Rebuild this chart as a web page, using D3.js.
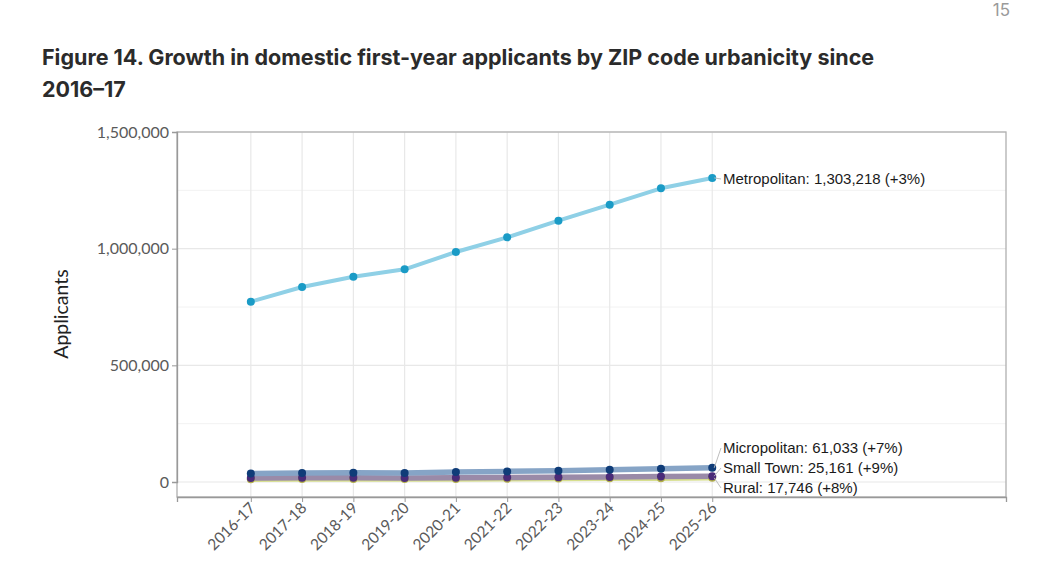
<!DOCTYPE html>
<html>
<head>
<meta charset="utf-8">
<script src="https://cdn.jsdelivr.net/npm/d3@7"></script>
<style>
  html, body { margin: 0; padding: 0; background: #fff; }
  svg { display: block; }
</style>
</head>
<body>
<svg id="chart"></svg>
<script>
// Chart data
const years = ['2016-17', '2017-18', '2018-19', '2019-20', '2020-21',
  '2021-22', '2022-23', '2023-24', '2024-25', '2025-26'];
const metropolitan = [772700, 835700, 880000, 911400, 985700, 1048600, 1120000, 1188600, 1258600, 1303218];
const micropolitan = [36500, 38500, 39500, 39000, 42500, 45500, 48500, 53000, 57000, 61033];
const smallTown = [17500, 17800, 18000, 17600, 18600, 19600, 20800, 21900, 23100, 25161];
const rural = [12300, 12500, 12700, 12400, 13200, 14000, 14900, 15700, 16400, 17746];
const yTicks = [0, 500000, 1000000, 1500000];
const yMinorTicks = [250000, 750000, 1250000];
const endLabels = [
  'Metropolitan: 1,303,218 (+3%)',
  'Micropolitan: 61,033 (+7%)',
  'Small Town: 25,161 (+9%)',
  'Rural: 17,746 (+8%)'
];

const series = [
  { name: 'Rural', values: rural, line: '#d7df8e', dot: '#b3b04a', label: endLabels[3], labelY: 488 },
  { name: 'Small Town', values: smallTown, line: '#9a8aa8', dot: '#4a2a78', label: endLabels[2], labelY: 468 },
  { name: 'Micropolitan', values: micropolitan, line: '#86a4c6', dot: '#0f3c78', label: endLabels[1], labelY: 448 },
  { name: 'Metropolitan', values: metropolitan, line: '#8fd0e6', dot: '#1a9bc6', label: endLabels[0], labelY: 179 }
];

const W = 1049, H = 574;
const svg = d3.select('#chart').attr('width', W).attr('height', H);

const panel = { left: 177, right: 1006, top: 132, bottom: 497 };

// x: discrete years, panel widened on the right for the end labels
const x = d3.scaleLinear().domain([-1.44, 14.73]).range([panel.left, panel.right]);
const y = d3.scaleLinear().domain([0, 1500000]).range([482, 132]);

// Page number
svg.append('text')
  .attr('x', 1010).attr('y', 16)
  .attr('text-anchor', 'end')
  .attr('fill', '#9a9a9a').attr('font-family', 'Inter, sans-serif').attr('font-size', '17px')
  .text('15');

// Title
const title = svg.append('text')
  .attr('fill', '#2b2b2b').attr('font-family', 'Inter, sans-serif')
  .attr('font-size', '21.5px').attr('font-weight', 'bold');
title.append('tspan').attr('x', 42).attr('y', 65)
  .text('Figure 14. Growth in domestic first-year applicants by ZIP code urbanicity since');
title.append('tspan').attr('x', 42).attr('y', 97).text('2016–17');

// Gridlines
const grid = svg.append('g');
grid.selectAll('.minor').data(yMinorTicks).join('line')
  .attr('x1', panel.left).attr('x2', panel.right)
  .attr('y1', d => y(d)).attr('y2', d => y(d))
  .attr('stroke', '#f2f2f2').attr('stroke-width', 1);
grid.selectAll('.major').data(yTicks).join('line')
  .attr('x1', panel.left).attr('x2', panel.right)
  .attr('y1', d => y(d)).attr('y2', d => y(d))
  .attr('stroke', '#e8e8e8').attr('stroke-width', 1.2);
grid.selectAll('.vmajor').data(years).join('line')
  .attr('x1', (d, i) => x(i)).attr('x2', (d, i) => x(i))
  .attr('y1', panel.top).attr('y2', panel.bottom)
  .attr('stroke', '#e8e8e8').attr('stroke-width', 1.2);

// Panel border
svg.append('rect')
  .attr('x', panel.left).attr('y', panel.top)
  .attr('width', panel.right - panel.left).attr('height', panel.bottom - panel.top)
  .attr('fill', 'none').attr('stroke', '#b0b0b0').attr('stroke-width', 1.3);

// Y axis
const yAxis = svg.append('g')
  .attr('transform', `translate(${panel.left},0)`)
  .call(d3.axisLeft(y).tickValues(yTicks).tickSize(5).tickPadding(3).tickFormat(d3.format(',')));
yAxis.select('.domain').attr('stroke', '#999').attr('stroke-width', 1.3);
yAxis.selectAll('.tick line').attr('stroke', '#999');
yAxis.selectAll('.tick text')
  .attr('fill', '#5a5a5a').attr('font-family', 'Lato, sans-serif').attr('font-size', '16px');

// X axis
const xAxis = svg.append('g')
  .attr('transform', `translate(0,${panel.bottom})`)
  .call(d3.axisBottom(x).tickValues(d3.range(years.length)).tickSize(5).tickFormat(i => years[i]));
xAxis.select('.domain').attr('stroke', '#999').attr('stroke-width', 1.3);
xAxis.selectAll('.tick line').attr('stroke', '#999');
xAxis.selectAll('.tick text')
  .attr('fill', '#5a5a5a').attr('font-family', 'Lato, sans-serif').attr('font-size', '15.5px')
  .attr('text-anchor', 'end').attr('dy', 0).attr('y', 0)
  .attr('transform', 'translate(5,12) rotate(-45)');

// Y axis title
svg.append('text')
  .attr('transform', 'translate(68,314) rotate(-90)')
  .attr('text-anchor', 'middle')
  .attr('fill', '#222').attr('font-family', 'Lato, sans-serif').attr('font-size', '19.5px')
  .text('Applicants');

// Lines and points
const line = d3.line().x((d, i) => x(i)).y(d => y(d));
const marks = svg.append('g');
series.forEach(s => {
  marks.append('path')
    .datum(s.values)
    .attr('d', line)
    .attr('fill', 'none')
    .attr('stroke', s.line)
    .attr('stroke-width', s.name === 'Metropolitan' ? 4 : 5.5)
    .attr('stroke-linejoin', 'round');
});
series.forEach(s => {
  marks.selectAll(null).data(s.values).join('circle')
    .attr('cx', (d, i) => x(i)).attr('cy', d => y(d))
    .attr('r', 4).attr('fill', s.dot);
});

// End labels with connector segments
const last = years.length - 1;
const labels = svg.append('g');
series.forEach(s => {
  const px = x(last), py = y(s.values[last]);
  labels.append('line')
    .attr('x1', px + 2).attr('y1', py)
    .attr('x2', 721).attr('y2', s.labelY)
    .attr('stroke', '#bdbdbd').attr('stroke-width', 1);
  labels.append('text')
    .attr('x', 723).attr('y', s.labelY).attr('dy', '0.35em')
    .attr('fill', '#1a1a1a').attr('font-family', '"Liberation Sans", Arial, sans-serif')
    .attr('font-size', '15px')
    .text(s.label);
});
</script>
</body>
</html>
